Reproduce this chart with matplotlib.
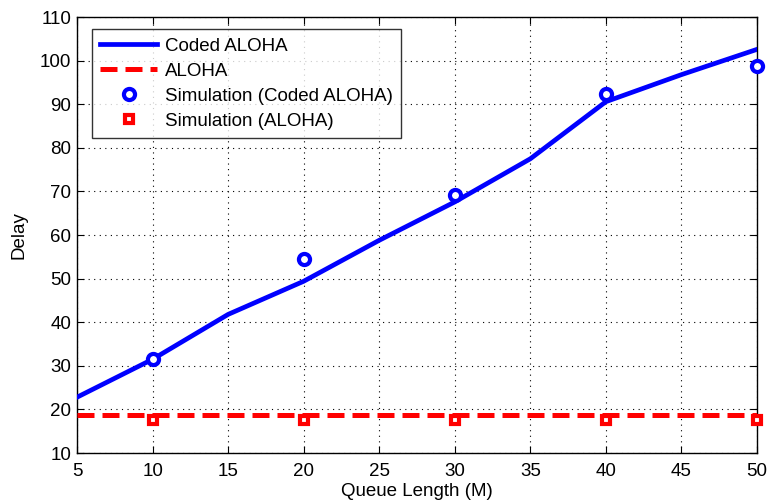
import matplotlib
matplotlib.use("Agg")
import matplotlib.pyplot as plt
import numpy as np

plt.rcParams['font.family'] = ['Liberation Sans', 'DejaVu Sans']

queue_len = [5, 10, 15, 20, 25, 30, 35, 40, 45, 50]
coded_aloha = [22.8, 31.5, 41.8, 49.4, 58.8, 67.6, 77.5, 90.6, 96.8, 102.6]
aloha = [18.7] * len(queue_len)
sim_x = [10, 20, 30, 40, 50]
sim_coded = [31.5, 54.5, 69.1, 92.3, 98.8]
sim_aloha = [17.5, 17.5, 17.5, 17.5, 17.5]

fig = plt.figure(figsize=(7.68, 5.03), dpi=100)
ax = fig.add_axes([0.1003, 0.0994, 0.8854, 0.8666])

ax.plot(queue_len, coded_aloha, color='#0000ff', lw=3.4, label='Coded ALOHA', zorder=3)
l2, = ax.plot(queue_len, aloha, color='#ff0000', lw=3.6, label='ALOHA', zorder=3)
l2.set_dashes([3.4, 1.6])
ax.plot(sim_x, sim_coded, linestyle='none', marker='o', ms=8, mew=3.0,
        mfc='white', mec='#0000ff', label='Simulation (Coded ALOHA)', zorder=4, clip_on=False)
ax.plot(sim_x, sim_aloha, linestyle='none', marker='s', ms=6.2, mew=3.0,
        mfc='white', mec='#ff0000', label='Simulation (ALOHA)', zorder=4, clip_on=False)

ax.set_xlim(5, 50)
ax.set_ylim(10, 110)
ax.set_xticks(np.arange(5, 51, 5))
ax.set_yticks(np.arange(10, 111, 10))
ax.grid(True, linestyle=(0, (1, 4)), color='black', lw=0.8)
ax.tick_params(direction='in', top=True, right=True, labelsize=13.5, length=5, width=0.8)
ax.tick_params(axis='x', pad=7.5)
ax.tick_params(axis='y', pad=4)
for s in ax.spines.values():
    s.set_linewidth(1.0)
ax.set_xlabel('Queue Length (M)', fontsize=13.5, labelpad=2)
ax.set_ylabel('Delay', fontsize=13.5, labelpad=9)

leg = ax.legend(loc='upper left', bbox_to_anchor=(0.022, 0.972), fontsize=13.5,
                handlelength=3.0, frameon=True, fancybox=False, edgecolor='black',
                borderpad=0.45, labelspacing=0.42, handletextpad=0.45, borderaxespad=0)
leg.get_frame().set_linewidth(1.0)

fig.savefig('out.png', dpi=100)
